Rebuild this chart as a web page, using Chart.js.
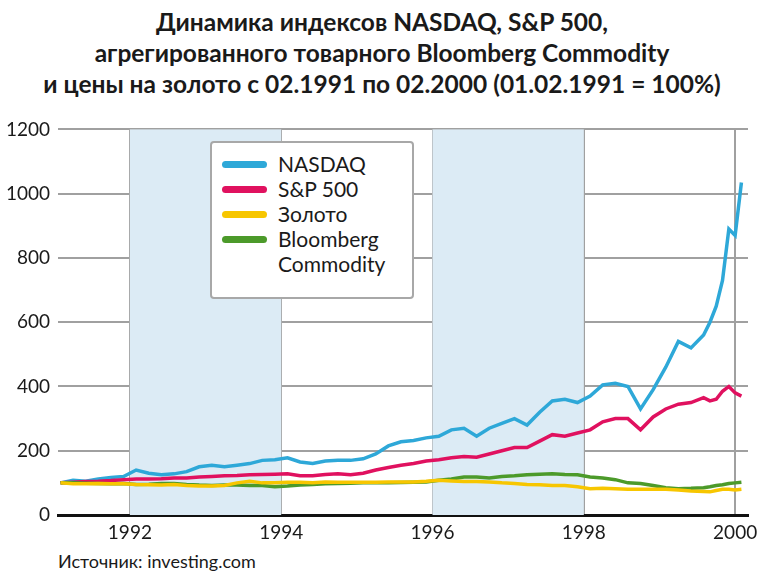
<!DOCTYPE html>
<html>
<head>
<meta charset="utf-8">
<script src="https://cdn.jsdelivr.net/npm/chart.js@4"></script>
<style>
  body { margin:0; width:764px; height:578px; background:#fff; font-family:Lato, "Noto Sans", sans-serif; position:relative; overflow:hidden; }
  #title { position:absolute; top:6px; left:0; width:764px; text-align:center; font-weight:bold; font-size:24.5px; line-height:31px; color:#1a1a1a; }
  #wrap { position:absolute; top:110px; left:0; width:764px; height:440px; }
  #legend { position:absolute; left:210px; top:141px; width:204px; height:158px; background:#fff; border:2px solid #a8a8a8; border-radius:4px; font-size:21px; color:#1a1a1a; box-sizing:border-box; padding:8px 0 0 10px; }
  #legend div { position:relative; padding-left:56px; line-height:25px; margin-bottom:0; }
  #legend span { position:absolute; left:0; top:10px; width:45px; height:7px; border-radius:4px; }
  #src { position:absolute; left:58px; top:550px; font-size:18px; color:#1a1a1a; }
</style>
</head>
<body>
<div id="title">Динамика индексов NASDAQ, S&amp;P 500,<br>агрегированного товарного Bloomberg Commodity<br>и цены на золото с 02.1991 по 02.2000 (01.02.1991 = 100%)</div>
<div id="wrap"><canvas id="myChart"></canvas></div>
<div id="legend">
  <div><span style="background:#2ea8d8"></span>NASDAQ</div>
  <div><span style="background:#e0115f"></span>S&amp;P 500</div>
  <div><span style="background:#f7c600"></span>Золото</div>
  <div><span style="background:#4c9a2a"></span>Bloomberg<br>Commodity</div>
</div>
<div id="src">Источник: investing.com</div>
<script>
// two-month steps from 02.1991, then monthly at the end
var dates = [];
for (var i = 0; i < 52; i++) dates.push(1991.083 + i / 6);
dates.push(1999.667, 1999.75, 1999.833, 1999.917, 2000.0, 2000.083);

var nasdaq = [100,108,105,112,117,120, 140,130,125,128,135,150, 155,150,155,160,170,172,
  178,165,160,168,170,170, 175,190,215,228,232,240, 245,265,270,245,270,285,
  300,280,320,355,360,350, 370,405,410,400,330,390, 460,540,520,560, 600,650,730,890,870,1035];
var sp500 = [100,102,104,105,107,110, 112,112,113,115,115,118, 120,122,123,125,126,127,
  128,122,122,126,128,125, 130,140,148,155,160,168, 172,178,182,180,190,200,
  210,210,230,250,245,255, 265,290,300,300,265,305, 330,345,350,365, 355,360,385,400,380,370];
var gold = [100,97,97,98,97,97, 95,94,93,95,92,90, 90,92,100,105,100,100,
  102,102,100,103,102,102, 102,102,103,103,103,105, 108,106,104,104,103,100,
  98,95,94,92,92,88, 82,83,82,80,80,80, 80,78,75,73, 72,76,80,80,78,80];
var bloomberg = [100,100,99,98,97,98, 95,96,98,98,95,93, 92,93,93,92,92,88,
  90,93,95,97,98,99, 100,100,100,101,102,103, 108,112,118,118,115,120,
  122,125,127,128,126,125, 118,115,110,100,98,92, 85,82,83,85, 88,92,94,98,100,102];
var bands = [[1992,1994],[1996,1998]];

function pts(v) { return v.map(function (y, i) { return {x: dates[i], y: y}; }); }

var bandPlugin = {
  id: 'bands',
  beforeDatasetsDraw: function (chart) {
    var ctx = chart.ctx, a = chart.chartArea, x = chart.scales.x;
    ctx.save();
    ctx.fillStyle = '#dcebf5';
    bands.forEach(function (b) {
      var x0 = x.getPixelForValue(b[0]), x1 = x.getPixelForValue(b[1]);
      ctx.fillRect(x0, a.top, x1 - x0, a.bottom - a.top);
    });
    ctx.restore();
  }
};

function ds(data, color) {
  return { data: pts(data), borderColor: color, borderWidth: 3.5, pointRadius: 0, tension: 0, fill: false };
}

new Chart(document.getElementById('myChart'), {
  type: 'line',
  data: { datasets: [ds(gold, '#f7c600'), ds(bloomberg, '#4c9a2a'), ds(sp500, '#e0115f'), ds(nasdaq, '#2ea8d8')] },
  options: {
    responsive: true, maintainAspectRatio: false, animation: false,
    layout: { padding: { top: 15, right: 16 } },
    plugins: { legend: { display: false }, tooltip: { enabled: false } },
    scales: {
      x: {
        type: 'linear', min: 1991.05, max: 2000.17,
        afterBuildTicks: function (s) { s.ticks = [1992,1994,1996,1998,2000].map(function (v) { return {value: v}; }); },
        afterFit: function (s) { s.height = 35; },
        ticks: { color: '#1a1a1a', font: { size: 19, family: 'Lato' }, padding: 6, callback: function (v) { return v; } },
        grid: { color: '#a0a0a0', lineWidth: 2, drawTicks: false },
        border: { color: '#111', width: 3 }
      },
      y: {
        min: 0, max: 1200,
        afterFit: function (s) { s.width = 58; },
        ticks: { stepSize: 200, color: '#1a1a1a', font: { size: 19, family: 'Lato' }, padding: 8, callback: function (v) { return v; } },
        grid: { color: '#a0a0a0', lineWidth: 2, drawTicks: false },
        border: { display: false }
      }
    }
  },
  plugins: [bandPlugin]
});
</script>
</body>
</html>
